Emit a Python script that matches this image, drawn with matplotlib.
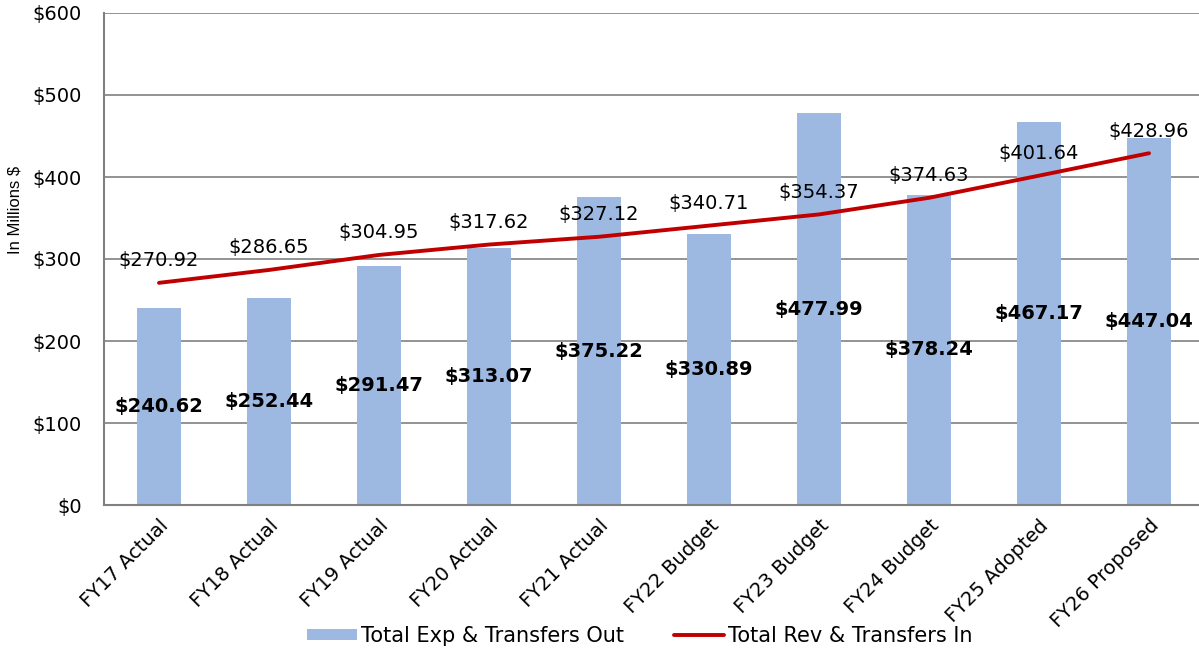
import matplotlib
matplotlib.use("Agg")
import matplotlib.pyplot as plt
import numpy as np

categories = ["FY17 Actual", "FY18 Actual", "FY19 Actual", "FY20 Actual", "FY21 Actual",
              "FY22 Budget", "FY23 Budget", "FY24 Budget", "FY25 Adopted", "FY26 Proposed"]
exp_out = [240.62, 252.44, 291.47, 313.07, 375.22, 330.89, 477.99, 378.24, 467.17, 447.04]
rev_in = [270.92, 286.65, 304.95, 317.62, 327.12, 340.71, 354.37, 374.63, 401.64, 428.96]
y_ticks = [0, 100, 200, 300, 400, 500, 600]

plt.rcParams['font.family'] = ['DejaVu Sans']

fig = plt.figure(figsize=(11.99, 6.53), dpi=100)
ax = fig.add_axes([104/1199, 1 - 505/653, 1100/1199, (505-13)/653])

x = np.arange(len(categories))
bars = ax.bar(x, exp_out, width=0.4, color="#9DB9E1", zorder=2, label="Total Exp & Transfers Out")
line, = ax.plot(x, rev_in, color="#C00000", lw=2.8, zorder=3, solid_capstyle="round",
                label="Total Rev & Transfers In")

for xi, v in zip(x, exp_out):
    ax.text(xi, v / 2, f"${v:.2f}", ha="center", va="center", fontsize=14, fontweight="bold", zorder=4)
for xi, v in zip(x, rev_in):
    ax.annotate(f"${v:.2f}", (xi, v), xytext=(0, 16), textcoords="offset points",
                ha="center", va="center", fontsize=14, zorder=4)

ax.set_xlim(-0.5, len(categories) - 0.5)
ax.set_ylim(0, 600)
ax.set_yticks(y_ticks)
ax.set_yticklabels([f"${t}" for t in y_ticks], fontsize=14)
ax.set_xticks(x)
ax.set_xticklabels(categories, rotation=45, ha="right", rotation_mode="anchor", fontsize=14)
ax.tick_params(axis="y", length=0, pad=16)
ax.tick_params(axis="x", length=0, pad=8)
ax.yaxis.grid(True, color="#808080", lw=1.2, zorder=0)
ax.set_axisbelow(True)
for s in ["top", "right"]:
    ax.spines[s].set_visible(False)
ax.spines["left"].set_color("#808080")
ax.spines["left"].set_linewidth(1.5)
ax.spines["bottom"].set_color("#808080")
ax.spines["bottom"].set_linewidth(1.5)

fig.text(15/1199, 1 - 210/653, "In Millions $", rotation=90, ha="center", va="center",
         fontsize=12, family=["Liberation Sans", "DejaVu Sans"])

fig.legend(handles=[bars, line], loc="center", bbox_to_anchor=(640/1199, 1 - 636/653),
           ncol=2, frameon=False, fontsize=15, handlelength=2.4, handletextpad=0.2,
           columnspacing=2.4, handleheight=0.45)

fig.savefig("out.png", dpi=100)
